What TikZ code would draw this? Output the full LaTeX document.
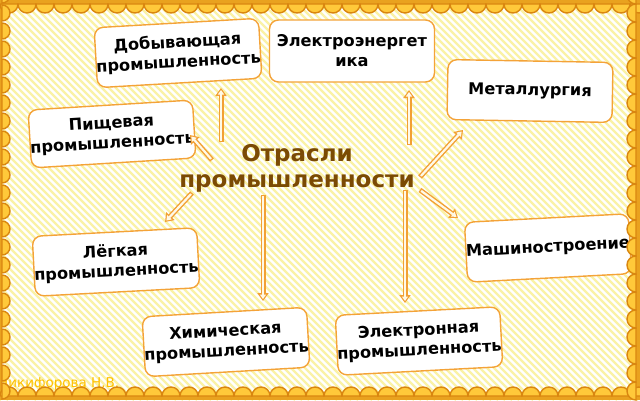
\documentclass[tikz,border=0pt]{standalone}
\usepackage{fontspec}
\setmainfont{DejaVu Sans}
\usetikzlibrary{arrows.meta}
\definecolor{boxor}{HTML}{F4A338}
\definecolor{arrowor}{HTML}{F2A035}
\definecolor{cream}{HTML}{FFF9E6}
\definecolor{stripecol}{HTML}{FAF2A6}
\definecolor{brownt}{HTML}{7B4A04}
\definecolor{goldstrip}{HTML}{E9A21F}
\definecolor{goldbump}{HTML}{FFC93A}
\definecolor{goldline}{HTML}{D98610}
\definecolor{wmcol}{HTML}{FFC000}
\begin{document}
\begin{tikzpicture}[x=1pt,y=1pt,
  box/.style={draw=boxor, line width=1.4pt, fill=white, rounded corners=9pt,
    inner sep=0pt, align=center, font=\fontsize{16.2}{20}\selectfont\bfseries},
  flow/.style={line width=5pt, draw=arrowor, -{Triangle[length=8pt,width=11pt]},
    postaction={draw=cream, line width=2.2pt, shorten >=2pt, shorten <=1.4pt,
      -{Triangle[length=4.5pt,width=6pt]}}},
  stripeline/.style={draw=stripecol, line width=2.2pt},
  bump/.style={fill=goldbump, draw=goldline, line width=1.4pt},
  title/.style={font=\fontsize{23}{26}\selectfont\bfseries, text=brownt, align=center},
  wmark/.style={font=\fontsize{13.5}{13.5}\selectfont, text=wmcol, anchor=base west, inner sep=0pt}
]
\useasboundingbox (0,0) rectangle (640,400);
% background
\fill[white] (0,0) rectangle (640,400);
\begin{scope}
  \clip (0,0) rectangle (640,400);
  \foreach \i in {-60,...,93} {
    \draw[stripeline] (\i*7,400) -- ++(400,-400);
  }
\end{scope}
% watermark
\node[wmark] (wm) at (-2,13) {Никифорова Н.В.};
% boxes
\node[box, minimum width=162pt, minimum height=60pt, rotate=3.3] (dob) at (178,347) {Добывающая\\промышленность};
\node[box, minimum width=165pt, minimum height=62pt] (elen) at (352,349) {Электроэнергет\\ика};
\node[box, minimum width=165pt, minimum height=60pt, rotate=-1] (met) at (530,309) {Металлургия};
\node[box, minimum width=163pt, minimum height=58pt, rotate=3.5] (pish) at (112,266) {Пищевая\\промышленность};
\node[box, minimum width=163pt, minimum height=60pt, rotate=3] (leg) at (116,138) {Лёгкая\\промышленность};
\node[box, minimum width=163pt, minimum height=60pt, rotate=3.3] (him) at (226,58) {Химическая\\промышленность};
\node[box, minimum width=161pt, minimum height=60pt, rotate=3] (eltr) at (419,59) {Электронная\\промышленность};
\node[box, minimum width=164pt, minimum height=60pt, rotate=3] (mash) at (548,152) {Машиностроение};
% title
\node[title] (ttl) at (297,232) {Отрасли\\промышленности};
% arrow ends
\coordinate (s1) at (221,258); \coordinate (e1) at (221,312);
\coordinate (s2) at (409,255); \coordinate (e2) at (409,310);
\coordinate (s3) at (420,223); \coordinate (e3) at (463,270);
\coordinate (s4) at (212,240); \coordinate (e4) at (190,265);
\coordinate (s5) at (192,207); \coordinate (e5) at (165,178);
\coordinate (s6) at (263,205); \coordinate (e6) at (263,99);
\coordinate (s7) at (405,210); \coordinate (e7) at (405,97);
\coordinate (s8) at (420,210); \coordinate (e8) at (458,182);
\draw[flow] (s1) -- (e1);
\draw[flow] (s2) -- (e2);
\draw[flow] (s3) -- (e3);
\draw[flow] (s4) -- (e4);
\draw[flow] (s5) -- (e5);
\draw[flow] (s6) -- (e6);
\draw[flow] (s7) -- (e7);
\draw[flow] (s8) -- (e8);
% frame
\fill[goldstrip] (0,396) rectangle (640,400);
\fill[goldstrip] (0,0) rectangle (640,4);
\fill[goldstrip] (0,0) rectangle (2,400);
\fill[goldstrip] (636,0) rectangle (640,400);
\foreach \i in {0,...,35} {
  \filldraw[bump] (18*\i,396) arc[start angle=180, end angle=360, radius=9] -- cycle;
  \filldraw[bump] (18*\i,4) arc[start angle=180, end angle=0, radius=9] -- cycle;
}
\foreach \j in {0,...,22} {
  \filldraw[bump] (2,18*\j+17) arc[start angle=90, end angle=-90, radius=8] -- cycle;
  \filldraw[bump] (636,18*\j+18) arc[start angle=90, end angle=270, radius=9] -- cycle;
}
\end{tikzpicture}
\end{document}
